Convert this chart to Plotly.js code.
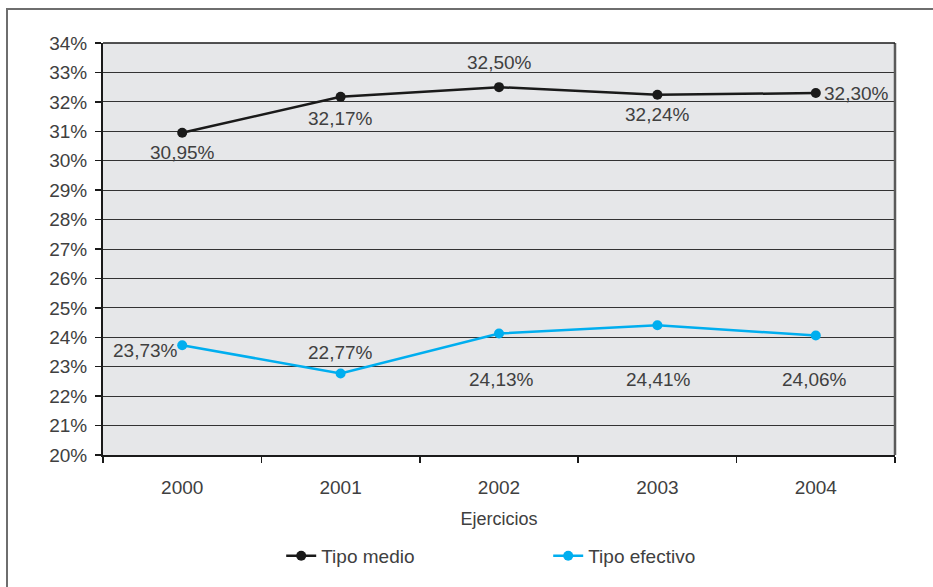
<!DOCTYPE html>
<html>
<head>
<meta charset="utf-8">
<script src="https://cdn.plot.ly/plotly-3.0.1.min.js"></script>
<style>
  html, body { margin: 0; padding: 0; background: #fff; }
  #wrap { position: relative; width: 933px; height: 587px; }
  #chart { width: 933px; height: 587px; }
  #frame { position: absolute; left: 6px; top: 8px; width: 940px; height: 600px;
           border-left: 2px solid #6e6e6e; border-top: 2px solid #6e6e6e; pointer-events: none; }
</style>
</head>
<body>
<div id="wrap">
  <div id="chart"></div>
  <div id="frame"></div>
</div>
<script>
// ---- data ----
var years = ['2000', '2001', '2002', '2003', '2004'];
var tipoMedio = [30.95, 32.17, 32.50, 32.24, 32.30];
var tipoEfectivo = [23.73, 22.77, 24.13, 24.41, 24.06];
var yTicks = [20, 21, 22, 23, 24, 25, 26, 27, 28, 29, 30, 31, 32, 33, 34];
var seriesNames = ['Tipo medio', 'Tipo efectivo'];

// label placement styles (not data)
var medioLabelStyle = [
  {xanchor: 'center', yanchor: 'middle', xshift: 0, yshift: -20},
  {xanchor: 'center', yanchor: 'middle', xshift: 0, yshift: -22},
  {xanchor: 'center', yanchor: 'middle', xshift: 0, yshift: 25},
  {xanchor: 'center', yanchor: 'middle', xshift: 0, yshift: -20},
  {xanchor: 'left', yanchor: 'middle', xshift: 6, yshift: 0}
];
var efectivoLabelStyle = [
  {xanchor: 'right', yanchor: 'middle', xshift: -2, yshift: -5},
  {xanchor: 'center', yanchor: 'middle', xshift: 0, yshift: 21},
  {xanchor: 'center', yanchor: 'middle', xshift: 2, yshift: -46},
  {xanchor: 'center', yanchor: 'middle', xshift: 1, yshift: -54},
  {xanchor: 'center', yanchor: 'middle', xshift: -1, yshift: -44}
];

function fmt(v) { return v.toFixed(2).replace('.', ',') + '%'; }

var textColor = '#404040';
var fontFam = '"Liberation Sans", Arial, Helvetica, sans-serif';
var fs = 19;

var traces = [
  {
    x: years, y: tipoMedio, name: seriesNames[0], type: 'scatter', mode: 'lines+markers',
    line: {color: '#1a1a1a', width: 2.5},
    marker: {color: '#1a1a1a', size: 10},
    cliponaxis: false, hoverinfo: 'skip'
  },
  {
    x: years, y: tipoEfectivo, name: seriesNames[1], type: 'scatter', mode: 'lines+markers',
    line: {color: '#00aeef', width: 2.5},
    marker: {color: '#00aeef', size: 10},
    cliponaxis: false, hoverinfo: 'skip'
  }
];

var annotations = [];
function addLabels(vals, styles) {
  for (var i = 0; i < vals.length; i++) {
    var s = styles[i];
    annotations.push({
      x: i, y: vals[i], xref: 'x', yref: 'y', text: fmt(vals[i]), showarrow: false,
      xanchor: s.xanchor, yanchor: s.yanchor, xshift: s.xshift, yshift: s.yshift,
      font: {family: fontFam, size: fs, color: textColor}
    });
  }
}
addLabels(tipoMedio, medioLabelStyle);
addLabels(tipoEfectivo, efectivoLabelStyle);

var layout = {
  width: 933, height: 587,
  margin: {l: 103, r: 38, t: 43, b: 130},
  paper_bgcolor: '#ffffff',
  plot_bgcolor: '#e6e7e9',
  font: {family: fontFam, size: fs, color: textColor},
  showlegend: true,
  legend: {
    orientation: 'h', x: 0.225, xanchor: 'left', y: -0.245, yanchor: 'middle',
    font: {family: fontFam, size: fs, color: textColor},
    entrywidth: 222, entrywidthmode: 'pixels', itemwidth: 30, traceorder: 'normal'
  },
  xaxis: {
    type: 'category', range: [-0.5, 4.5], fixedrange: true,
    showgrid: false, zeroline: false,
    showline: true, linecolor: '#1a1a1a', linewidth: 2,
    ticks: 'outside', tickson: 'boundaries', ticklen: 6, tickcolor: '#1a1a1a', tickwidth: 1.5,
    ticklabelstandoff: 14,
    tickfont: {family: fontFam, size: fs, color: textColor},
    title: {text: 'Ejercicios', font: {family: fontFam, size: 18, color: textColor}, standoff: 16}
  },
  yaxis: {
    range: [20, 34], fixedrange: true,
    tickvals: yTicks, ticktext: yTicks.map(function (t) { return t + '%'; }),
    showgrid: true, gridcolor: '#333333', gridwidth: 1,
    zeroline: false,
    showline: true, linecolor: '#1a1a1a', linewidth: 2,
    ticks: 'outside', ticklen: 6, tickcolor: '#1a1a1a', tickwidth: 1.5,
    ticklabelstandoff: 4,
    tickfont: {family: fontFam, size: fs, color: textColor}
  },
  shapes: [
    {type: 'line', xref: 'paper', yref: 'paper', x0: 1, x1: 1, y0: 0, y1: 1,
     line: {color: '#5a5a5a', width: 2.5}},
    {type: 'line', xref: 'paper', yref: 'paper', x0: 0, x1: 1, y0: 1, y1: 1,
     line: {color: '#1a1a1a', width: 1.5}}
  ],
  annotations: annotations
};

Plotly.newPlot('chart', traces, layout, {displayModeBar: false, staticPlot: true});
</script>
</body>
</html>
